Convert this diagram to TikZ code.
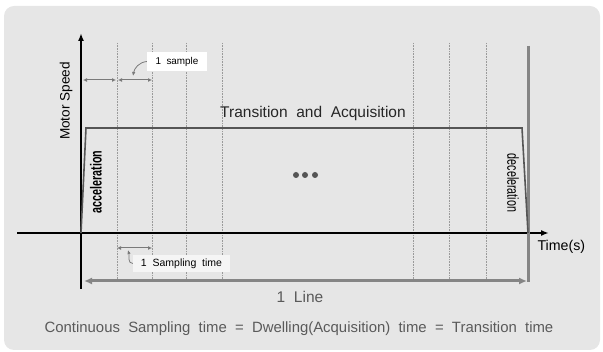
\documentclass[tikz,border=0pt]{standalone}
\usepackage{fontspec}
\setmainfont{Liberation Sans}
\newfontfamily\narrowfont[FakeStretch=0.67]{Liberation Sans}
\usetikzlibrary{positioning,arrows.meta}

\definecolor{panel}{HTML}{E6E6E6}
\definecolor{profile}{HTML}{555555}
\definecolor{guideline}{HTML}{9A9A9A}
\definecolor{dimgray}{HTML}{7A7A7A}
\definecolor{linegray}{HTML}{858585}
\definecolor{textgray}{HTML}{5A5A5A}

\begin{document}
\begin{tikzpicture}[x=1pt,y=-1pt,
  guide/.style={densely dotted, guideline, line width=0.6pt},
  dimarrow/.style={{Latex[length=4pt,width=4pt]}-{Latex[length=4pt,width=4pt]}, dimgray, line width=1pt},
  callout/.style={-{Latex[length=4pt,width=3.5pt]}, dimgray, line width=0.8pt},
  axis/.style={black, -{Latex[length=8pt,width=6pt]}},
  sizefont/.style={font=\fontsize{#1}{#1}\selectfont}]
\useasboundingbox (0,0) rectangle (603,352);

% Panel
\fill[panel, rounded corners=10pt] (4,6) rectangle (600,350);

% Sample grid
\foreach \x/\n in {117/g1,152/g2,186/g3,222/g4,413/g5,449/g6,486/g7} {
  \coordinate (\n top) at (\x,43);
  \coordinate (\n bot) at (\x,280);
  \draw[guide] (\n top) -- (\n bot);
}

% Axes
\coordinate (ybot) at (81,289);
\coordinate (ytop) at (81,33);
\coordinate (xleft) at (17,233);
\coordinate (xright) at (549,233);
\draw[axis, line width=2.2pt] (ybot) -- (ytop);
\draw[axis, line width=1.8pt] (xleft) -- (xright);
\node[sizefont=13.6, rotate=90] (speed) at (66,101) {Motor Speed};
\node[sizefont=14.2, anchor=west] (time) at (534,247) {Time(s)};

% Line end and line length
\coordinate (endtop) at (528,46);
\coordinate (endbot) at (528,282);
\draw[linegray, line width=3pt] (endtop) -- (endbot);
\coordinate (lineleft) at (84,281);
\coordinate (lineright) at (527,281);
\draw[linegray, line width=3pt, {Latex[length=8pt,width=7pt]}-{Latex[length=8pt,width=7pt]}] (lineleft) -- (lineright);
\node[sizefont=15.5, textgray] (oneline) at (300,297) {1\ \ Line};

% Speed profile
\coordinate (p0) at (81,233);
\coordinate (p1) at (86,128);
\coordinate (p2) at (522,128);
\coordinate (p3) at (528,233);
\draw[profile, line width=1.6pt] (p0) -- (p1) -- (p2) -- (p3);
\node[sizefont=15.5, text=black!85] (trans) at (313,113) {Transition\ \ and\ \ Acquisition};
\node[font=\narrowfont\bfseries\fontsize{16}{16}\selectfont, rotate=90] (acc) at (96,182) {acceleration};
\node[font=\narrowfont\fontsize{16}{16}\selectfont, rotate=-90] (dec) at (513,183) {deceleration};

% Dots
\foreach \x/\n in {296/d1,305/d2,315/d3}
  \fill[profile] (\x,175) circle (3pt) coordinate (\n);

% 1 sample
\coordinate (s0) at (83,80);
\coordinate (s1) at (116,80);
\coordinate (s2) at (118,80);
\coordinate (s3) at (152,80);
\draw[dimarrow] (s0) -- (s1);
\draw[dimarrow] (s2) -- (s3);
\node[fill=white, sizefont=9.9, minimum width=60pt, minimum height=19pt] (sample) at (177,61.5) {1\ \ sample};
\coordinate (sampletip) at (133,76);
\draw[callout] (sample.west) to[out=185,in=80] (sampletip);

% 1 sampling time
\coordinate (t0) at (117,248);
\coordinate (t1) at (152,248);
\draw[dimarrow] (t0) -- (t1);
\node[fill=panel!40!white, sizefont=10.5, minimum width=97pt, minimum height=17pt] (stime) at (181.5,263.5) {1\ \ Sampling\ \ time};
\coordinate (stimetip) at (128,250);
\draw[callout] (stime.west) to[out=180,in=-75] (stimetip);

% Summary
\node[sizefont=14.9, textgray] (summary) at (299,329) {Continuous\ \ Sampling\ \ time\ \ =\ \ Dwelling(Acquisition)\ \ time\ \ =\ \ Transition\ \ time};
\end{tikzpicture}
\end{document}
